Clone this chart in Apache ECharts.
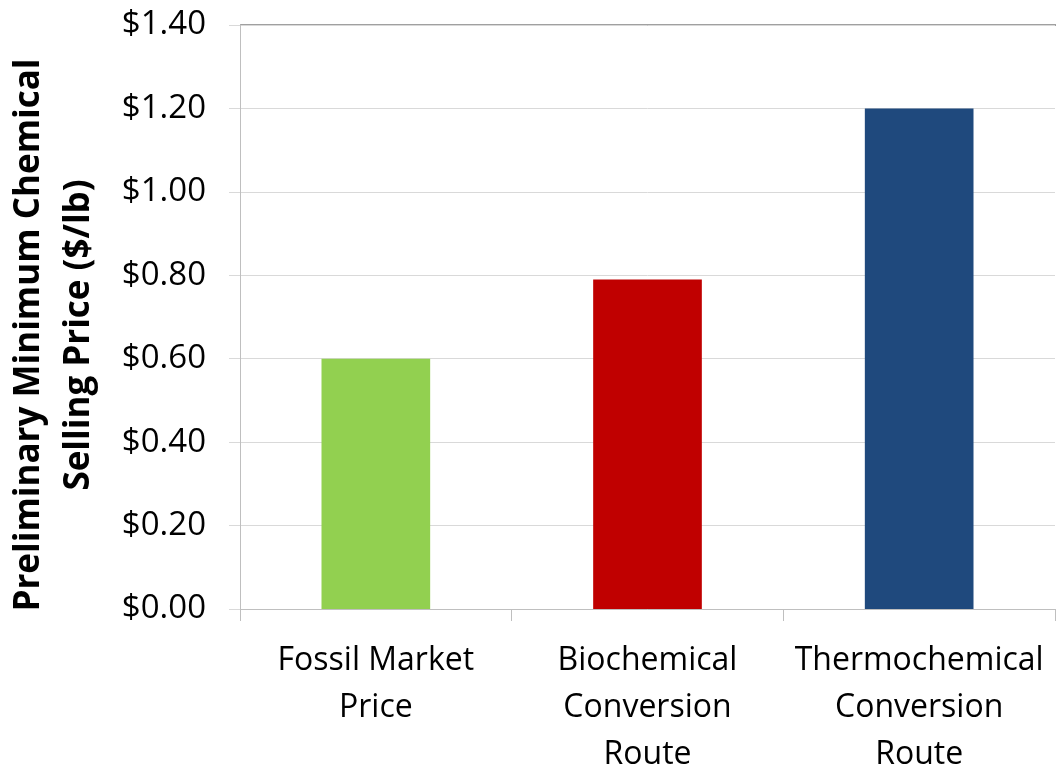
<!DOCTYPE html>
<html><head><meta charset="utf-8">
<script src="https://cdn.jsdelivr.net/npm/echarts@6/dist/echarts.min.js"></script>
<style>html,body{margin:0;padding:0;background:#fff}#c{width:1056px;height:767px}</style>
</head><body><div id="c"></div>
<script>
const categories = ['Fossil Market\nPrice', 'Biochemical\nConversion\nRoute', 'Thermochemical\nConversion\nRoute'];
const values = [0.60, 0.79, 1.20];
const barColors = ['#92d050', '#c00000', '#1f497d'];
const yAxisTitle = 'Preliminary Minimum Chemical\nSelling Price ($/lb)';

const chart = echarts.init(document.getElementById('c'));
chart.setOption({
  animation: false,
  grid: {left: 240, right: 1, top: 25, bottom: 158, containLabel: false, outerBoundsMode: 'none'},
  xAxis: {
    type: 'category', data: categories,
    axisLine: {lineStyle: {color: '#bfbfbf', width: 1}},
    axisTick: {show: true, length: 12, lineStyle: {color: '#bfbfbf'}},
    axisLabel: {color: '#000', fontFamily: 'Open Sans', fontSize: 32, lineHeight: 47, margin: 28, interval: 0}
  },
  yAxis: {
    type: 'value', min: 0, max: 1.4, interval: 0.2,
    name: yAxisTitle, nameLocation: 'middle', nameGap: 136, nameRotate: 90,
    nameTextStyle: {color: '#000', fontFamily: 'Open Sans', fontWeight: 'bold', fontSize: 35, lineHeight: 50, padding: [0, 36, 0, 0]},
    axisLine: {show: true, lineStyle: {color: '#bfbfbf'}},
    axisTick: {show: true, length: 11, lineStyle: {color: '#d9d9d9'}},
    splitLine: {show: true, lineStyle: {color: '#d9d9d9', width: 1}},
    axisLabel: {color: '#000', fontFamily: 'Open Sans', fontSize: 33, margin: 34,
      formatter: v => '$' + v.toFixed(2)}
  },
  series: [{
    type: 'bar', barWidth: '40%',
    data: values.map((v, i) => ({value: v, itemStyle: {color: barColors[i]}}))
  }],
  graphic: [{type: 'line', shape: {x1: 240, y1: 25, x2: 1056, y2: 25}, style: {stroke: '#808080', lineWidth: 1.5}}]
});
</script></body></html>
